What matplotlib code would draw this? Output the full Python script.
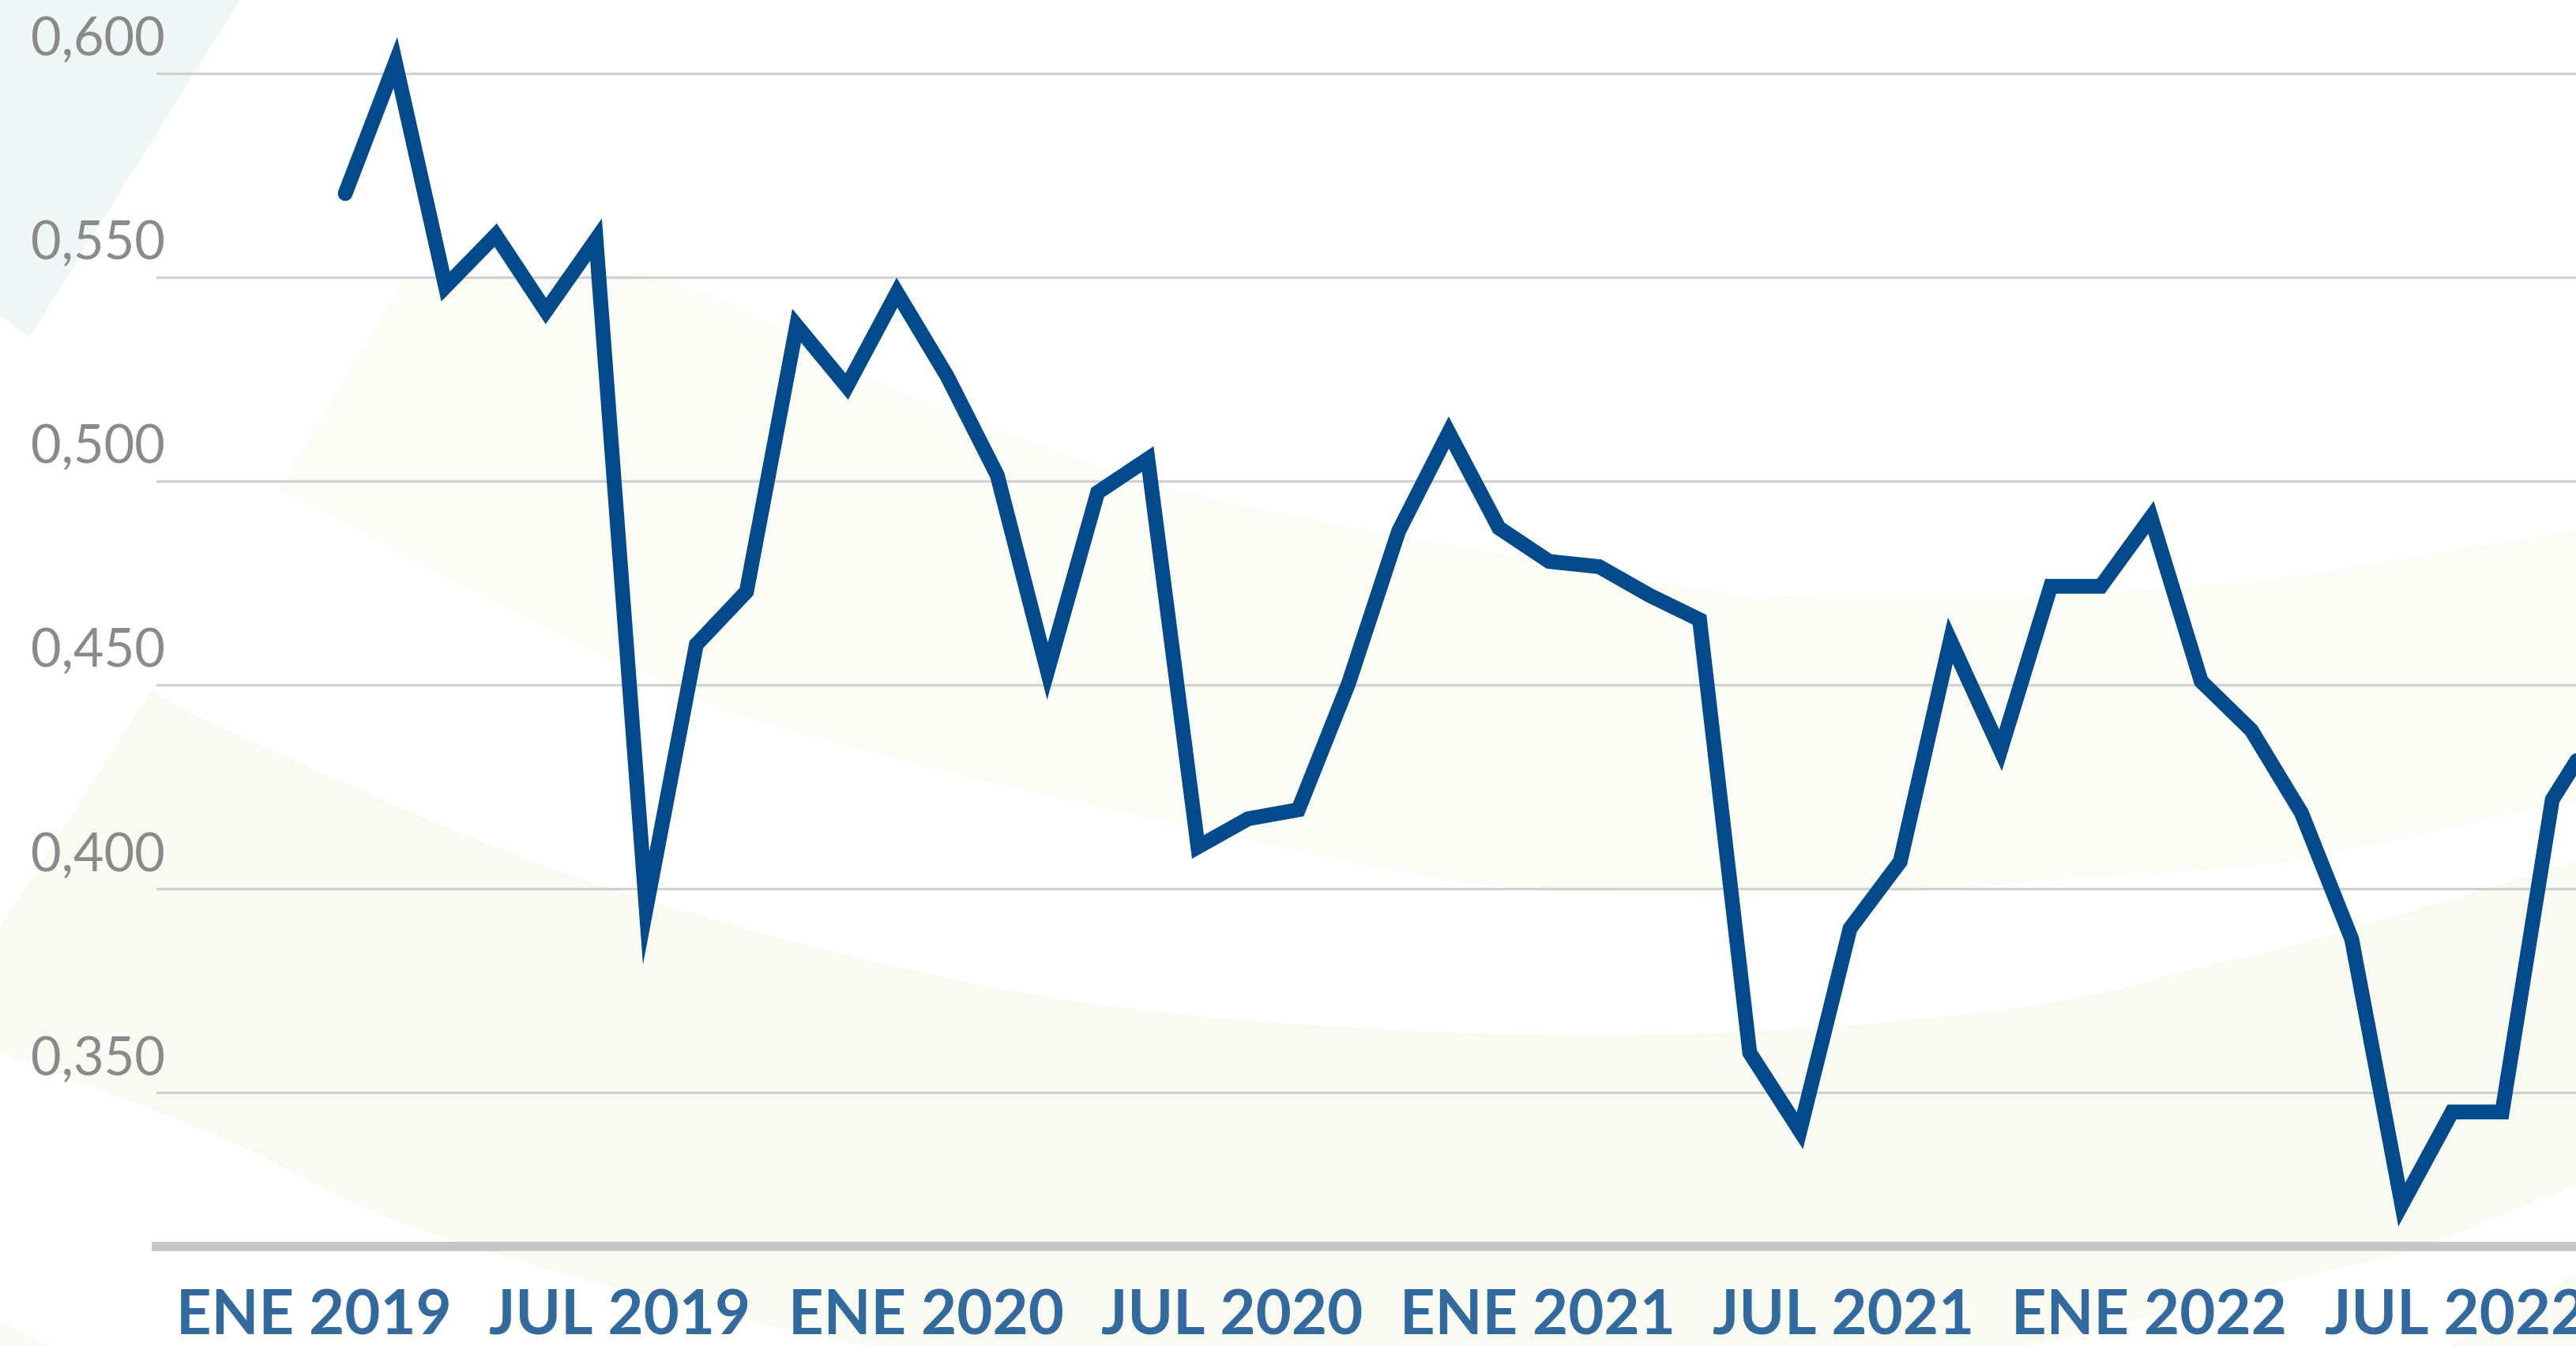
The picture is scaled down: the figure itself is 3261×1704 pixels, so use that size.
import numpy as np
import matplotlib
matplotlib.use("Agg")
import matplotlib.pyplot as plt
from matplotlib import transforms
from matplotlib.patches import Polygon

# ---------------- data ----------------
months = ["Ene 2019", "Feb 2019", "Mar 2019", "Abr 2019", "May 2019", "Jun 2019",
          "Jul 2019", "Ago 2019", "Sep 2019", "Oct 2019", "Nov 2019", "Dic 2019",
          "Ene 2020", "Feb 2020", "Mar 2020", "Abr 2020", "May 2020", "Jun 2020",
          "Jul 2020", "Ago 2020", "Sep 2020", "Oct 2020", "Nov 2020", "Dic 2020",
          "Ene 2021", "Feb 2021", "Mar 2021", "Abr 2021", "May 2021", "Jun 2021",
          "Jul 2021", "Ago 2021", "Sep 2021", "Oct 2021", "Nov 2021", "Dic 2021",
          "Ene 2022", "Feb 2022", "Mar 2022", "Abr 2022", "May 2022", "Jun 2022",
          "Jul 2022", "Ago 2022", "Sep 2022", "Oct 2022"]
values = [0.5705, 0.6026, 0.5477, 0.5603, 0.5417, 0.5592,
          0.3953, 0.4599, 0.4729, 0.5381, 0.5232, 0.5462,
          0.5257, 0.5014, 0.4534, 0.4972, 0.5054, 0.4103,
          0.4172, 0.4194, 0.4503, 0.4877, 0.5119, 0.4885,
          0.4803, 0.4790, 0.4720, 0.4660, 0.3598, 0.3407,
          0.3903, 0.4067, 0.4609, 0.4340, 0.4742, 0.4742,
          0.4911, 0.4509, 0.4389, 0.4186, 0.3877, 0.3226,
          0.3453, 0.3453, 0.4219, 0.4415]
ytick_values = [0.350, 0.400, 0.450, 0.500, 0.550, 0.600]
ytick_labels = ["0,350", "0,400", "0,450", "0,500", "0,550", "0,600"]
xtick_labels = ["ENE 2019", "JUL 2019", "ENE 2020", "JUL 2020",
                "ENE 2021", "JUL 2021", "ENE 2022", "JUL 2022"]

# ---------------- figure ----------------
W, H, DPI = 3262, 1704, 100
fig = plt.figure(figsize=(W / DPI, H / DPI), dpi=DPI)
fig.patch.set_facecolor("white")

# decorative background (in reduced 1568x819 pixel space)
bg = fig.add_axes([0, 0, 1, 1], zorder=0)
bg.set_xlim(0, 1568)
bg.set_ylim(819, 0)
bg.axis("off")


def catmull(pts, n=24):
    pts = np.asarray(pts, float)
    p = np.vstack([pts[0], pts, pts[-1]])
    out = []
    for i in range(1, len(p) - 2):
        p0, p1, p2, p3 = p[i - 1], p[i], p[i + 1], p[i + 2]
        for t in np.linspace(0, 1, n, endpoint=False):
            t2, t3 = t * t, t * t * t
            out.append(0.5 * ((2 * p1) + (-p0 + p2) * t +
                              (2 * p0 - 5 * p1 + 4 * p2 - p3) * t2 +
                              (-p0 + 3 * p1 - 3 * p2 + p3) * t3))
    out.append(pts[-1])
    return np.array(out)


teal = "#eef7f5"
creamA = "#fbfcf6"
creamB = "#f9faf1"
bg.add_patch(Polygon([(0, 0), (146, 0), (18, 205), (0, 192)], closed=True,
                     fc=teal, ec="none"))

topA = catmull([(245, 171), (405, 171), (527, 229), (625, 268), (745, 305),
                (1033, 358), (1105, 362), (1346, 356), (1568, 322), (1590, 316)])
botA = catmull([(1590, 482), (1568, 487), (1418, 519), (1346, 529), (1254, 535),
                (1105, 545), (917, 540), (745, 508), (508, 452), (389, 409),
                (169, 298)])
bg.add_patch(Polygon(np.vstack([topA, botA]), closed=True, fc=creamA, ec="none"))

topB = catmull([(92, 420), (144, 447), (360, 537), (606, 601), (817, 625),
                (1033, 629), (1230, 613), (1346, 587), (1418, 569), (1568, 524),
                (1590, 518)])
botB = catmull([(1590, 714), (1568, 721), (1474, 758), (1400, 777), (1100, 845),
                (800, 852), (529, 819), (270, 753), (135, 692), (0, 640)])
bg.add_patch(Polygon(np.vstack([topB, botB, [(0, 565)]]), closed=True,
                     fc=creamB, ec="none"))
bg.add_patch(Polygon([(1489, 820), (1568, 775), (1590, 768), (1590, 830), (1480, 830)],
                     closed=True, fc=creamB, ec="none"))
bg.add_patch(Polygon([(0, 804), (32, 820), (0, 820)], closed=True, fc=creamB, ec="none"))

# ---------------- main axes ----------------
ax_left = 198 / W
ax_bottom = (H - 1578) / H
ax = fig.add_axes([ax_left, ax_bottom, 1 - ax_left, 1578 / H], zorder=1)
ax.patch.set_alpha(0)

x = np.arange(len(values))
ax.set_xlim(-3.764, 44.488)
ax.set_ylim(0.31232, 0.61796)

ax.set_yticks(ytick_values)
ax.set_yticklabels([])
ax.set_xticks([])
ax.tick_params(axis="y", length=0)
ax.grid(axis="y", color="#d0d0d0", linewidth=2.3)
ax.set_axisbelow(True)
for s in ("top", "right", "left"):
    ax.spines[s].set_visible(False)
ax.spines["bottom"].set_color("#c6c6c6")
ax.spines["bottom"].set_linewidth(8.5)

ax.plot(x, values, color="#024a8c", linewidth=13.5,
        solid_joinstyle="miter", solid_capstyle="round", zorder=3, clip_on=True)

# y labels (left aligned, above their gridline)
ylab_tr = transforms.offset_copy(
    transforms.blended_transform_factory(fig.transFigure, ax.transData),
    fig=fig, x=0, y=23, units="dots")
for v, lab in zip(ytick_values, ytick_labels):
    ax.text(39 / W, v, lab, transform=ylab_tr, ha="left", va="baseline",
            fontsize=48, color="#8a8a8a", family="Lato", fontweight="normal",
            clip_on=False)

# x labels
xlab_tr = transforms.blended_transform_factory(ax.transData, fig.transFigure)
for i, lab in enumerate(xtick_labels):
    ax.text(-0.62 + 6.098 * i, 15 / H, lab, transform=xlab_tr, ha="center",
            va="baseline", fontsize=56, color="#336a9e", family="Lato",
            fontweight="bold", clip_on=False)

fig.savefig("out.png", dpi=DPI)
